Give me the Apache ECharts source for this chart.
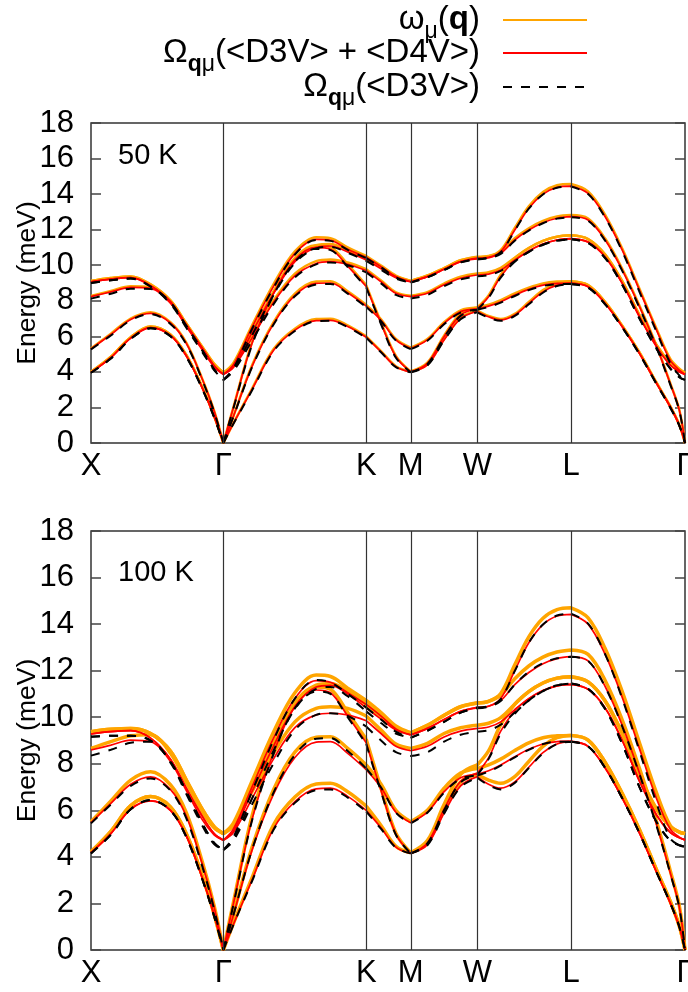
<!DOCTYPE html>
<html>
<head>
<meta charset="utf-8">
<script src="https://cdn.jsdelivr.net/npm/echarts@6/dist/echarts.min.js"></script>
<style>html,body{margin:0;padding:0;background:#fff}#c{width:688px;height:992px}</style>
</head>
<body>
<div id="c"></div>
<script>
// path coordinate (segments X-Γ, Γ-K, K-M, M-W, W-L, L-Γ; high-symmetry points repeated)
const qPath = [0,0.15,0.3,0.45,0.6,0.72,0.84,0.93,1.0, 1.0,1.076,1.216,1.378,1.54,1.701,1.809,1.939,2.079, 2.079,2.191,2.303,2.415, 2.415,2.541,2.667,2.792,2.918, 2.918,3.003,3.095,3.201,3.307,3.414,3.52,3.626, 3.626,3.755,3.884,4.013,4.143,4.272,4.375,4.444,4.487];
const kLabels = ['X','Γ','K','M','W','L','Γ'];
const kPos = [0, 1.0, 2.079, 2.415, 2.918, 3.626, 4.487];
const yTicks = [0,2,4,6,8,10,12,14,16,18];
const panelNames = ['50 K', '100 K'];

// 50 K: omega_mu(q)
const omega50 = [
 [4.0,4.85,5.95,6.55,6.1,4.95,3.15,1.52,0, 0,1.12,3.05,5.27,6.43,6.97,6.99,6.62,6.0, 6.0,5.17,4.32,4.02, 4.02,4.42,5.85,7.05,7.45, 7.45,7.15,6.97,7.26,7.93,8.6,8.98,9.08, 9.08,8.88,7.93,6.6,5.09,3.39,2.07,1.02,0],
 [4.0,4.85,5.95,6.55,6.1,4.95,3.15,1.52,0, 0,1.52,4.36,6.78,8.4,9.08,9.1,8.53,7.77, 7.77,6.96,5.85,5.36, 5.36,5.85,6.79,7.46,7.62, 7.62,7.78,8.04,8.42,8.74,8.98,9.08,9.1, 9.1,8.88,7.93,6.6,5.09,3.39,2.07,1.02,0],
 [5.32,6.15,7.0,7.36,6.8,5.65,3.62,1.82,0, 0,2.02,5.66,8.5,10.42,11.12,11.02,10.05,8.88, 8.88,6.8,4.9,4.02, 4.02,4.52,6.04,7.27,7.62, 7.62,8.3,9.47,10.4,10.97,11.37,11.6,11.68, 11.68,11.47,10.6,9.1,7.2,5.52,4.5,4.12,3.95],
 [8.27,8.55,8.82,8.77,7.93,6.62,5.33,4.38,3.95, 3.95,4.35,6.0,8.0,9.52,10.23,10.32,10.15,9.78, 9.78,9.14,8.48,8.28, 8.28,8.48,8.97,9.35,9.53, 9.53,9.6,9.85,10.42,10.97,11.37,11.6,11.68, 11.68,11.47,10.6,9.1,7.2,5.52,4.5,4.12,3.95],
 [9.12,9.28,9.37,8.92,8.02,6.72,5.42,4.45,3.95, 3.95,4.4,6.3,8.5,10.32,11.12,11.2,10.85,10.38, 10.38,9.87,9.37,9.12, 9.12,9.42,9.84,10.28,10.43, 10.43,10.5,10.76,11.52,12.08,12.49,12.74,12.82, 12.82,12.63,11.5,9.8,7.73,5.47,3.38,1.87,0],
 [9.12,9.28,9.37,8.92,8.02,6.72,5.42,4.45,3.95, 3.95,4.5,6.6,8.92,10.78,11.58,11.52,11.0,10.52, 10.52,9.98,9.42,9.12, 9.12,9.42,9.84,10.28,10.48, 10.48,10.52,10.85,12.1,13.32,14.12,14.5,14.57, 14.57,14.15,12.83,10.94,8.68,6.43,4.74,4.18,3.95]
];
// 50 K: Omega(<D3V> + <D4V>)
const d34_50 = [
 [3.97,4.8,5.9,6.49,6.05,4.9,3.1,1.5,0, 0,1.1,3.0,5.2,6.35,6.88,6.9,6.55,5.95, 5.95,5.13,4.29,4.0, 4.0,4.39,5.8,7.0,7.4, 7.4,7.1,6.92,7.2,7.85,8.5,8.88,8.98, 8.98,8.79,7.85,6.54,5.04,3.35,2.04,1.0,0],
 [3.97,4.8,5.9,6.49,6.05,4.9,3.1,1.5,0, 0,1.5,4.3,6.7,8.3,8.98,9.0,8.45,7.7, 7.7,6.9,5.8,5.32, 5.32,5.8,6.73,7.39,7.55, 7.55,7.7,7.95,8.32,8.64,8.88,8.98,9.0, 9.0,8.79,7.85,6.54,5.04,3.35,2.04,1.0,0],
 [5.29,6.1,6.95,7.29,6.75,5.6,3.6,1.8,0, 0,2.0,5.6,8.4,10.3,11.0,10.9,9.95,8.8, 8.8,6.73,4.85,4.0, 4.0,4.48,5.98,7.2,7.55, 7.55,8.22,9.37,10.26,10.8,11.19,11.42,11.5, 11.5,11.3,10.46,8.98,7.1,5.42,4.39,4.01,3.86],
 [8.23,8.5,8.75,8.7,7.86,6.55,5.25,4.28,3.86, 3.86,4.25,5.9,7.9,9.4,10.1,10.2,10.05,9.7, 9.7,9.07,8.42,8.23, 8.23,8.42,8.9,9.27,9.45, 9.45,9.5,9.73,10.29,10.8,11.19,11.42,11.5, 11.5,11.3,10.46,8.98,7.1,5.42,4.39,4.01,3.86],
 [9.07,9.22,9.3,8.85,7.95,6.65,5.35,4.35,3.86, 3.86,4.3,6.2,8.4,10.2,11.0,11.08,10.75,10.3, 10.3,9.8,9.3,9.07, 9.07,9.36,9.77,10.2,10.35, 10.35,10.42,10.67,11.42,11.98,12.39,12.64,12.73, 12.73,12.54,11.42,9.73,7.67,5.42,3.35,1.85,0],
 [9.07,9.22,9.3,8.85,7.95,6.65,5.35,4.35,3.86, 3.86,4.4,6.5,8.8,10.65,11.45,11.4,10.9,10.45, 10.45,9.92,9.36,9.07, 9.07,9.36,9.77,10.2,10.4, 10.4,10.44,10.76,11.98,13.2,14.0,14.38,14.45, 14.45,14.04,12.73,10.85,8.6,6.35,4.66,4.1,3.86]
];
// 50 K: Omega(<D3V>)
const d3_50 = [
 [3.95,4.75,5.85,6.45,6.0,4.85,3.05,1.45,0, 0,1.08,2.95,5.15,6.3,6.85,6.87,6.52,5.92, 5.92,5.1,4.27,3.98, 3.98,4.36,5.76,6.96,7.35, 7.35,7.05,6.87,7.15,7.8,8.45,8.83,8.93, 8.93,8.74,7.8,6.5,5.0,3.32,2.0,0.98,0],
 [3.95,4.75,5.85,6.45,6.0,4.85,3.05,1.45,0, 0,1.48,4.25,6.65,8.25,8.92,8.95,8.4,7.65, 7.65,6.85,5.76,5.28, 5.28,5.75,6.68,7.33,7.5, 7.5,7.65,7.9,8.27,8.6,8.83,8.93,8.95, 8.95,8.74,7.8,6.5,5.0,3.32,2.0,0.98,0],
 [5.27,6.05,6.9,7.25,6.7,5.55,3.55,1.75,0, 0,1.95,5.5,8.3,10.2,10.92,10.85,9.9,8.75, 8.75,6.68,4.8,3.98, 3.98,4.44,5.94,7.15,7.5, 7.5,8.17,9.3,10.2,10.75,11.15,11.38,11.46, 11.46,11.25,10.4,8.9,7.0,5.3,4.2,3.7,3.55],
 [8.12,8.4,8.68,8.66,7.82,6.48,5.12,4.1,3.55, 3.55,4.05,5.75,7.8,9.32,10.05,10.15,10.0,9.6, 9.6,8.98,8.33,8.13, 8.13,8.33,8.82,9.2,9.38, 9.38,9.44,9.68,10.22,10.75,11.15,11.38,11.46, 11.46,11.25,10.4,8.9,7.0,5.3,4.2,3.7,3.55],
 [9.0,9.15,9.25,8.8,7.9,6.58,5.22,4.15,3.55, 3.55,4.1,6.05,8.3,10.12,10.95,11.03,10.7,10.25, 10.25,9.75,9.25,9.02, 9.02,9.32,9.73,10.16,10.32, 10.32,10.4,10.64,11.38,11.95,12.36,12.62,12.7, 12.7,12.5,11.38,9.68,7.6,5.36,3.3,1.82,0],
 [9.0,9.15,9.25,8.8,7.9,6.58,5.22,4.15,3.55, 3.55,4.2,6.4,8.72,10.6,11.42,11.37,10.86,10.4, 10.4,9.88,9.32,9.02, 9.02,9.32,9.73,10.16,10.37, 10.37,10.42,10.73,11.95,13.18,13.98,14.36,14.43, 14.43,14.0,12.68,10.78,8.5,6.25,4.5,3.8,3.55]
];
// 100 K: omega_mu(q)
const omega100 = [
 [4.22,5.1,6.2,6.59,6.15,5.0,3.2,1.55,0, 0,1.15,3.1,5.37,6.57,7.13,7.16,6.8,6.18, 6.18,5.35,4.46,4.18, 4.18,4.6,6.02,7.22,7.55, 7.55,7.3,7.16,7.45,8.1,8.75,9.12,9.22, 9.22,9.02,8.06,6.72,5.17,3.44,2.1,1.03,0],
 [4.22,5.1,6.2,6.59,6.15,5.0,3.2,1.55,0, 0,1.55,4.4,6.88,8.5,9.14,9.16,8.66,7.95, 7.95,7.12,6.0,5.51, 5.51,6.0,6.95,7.6,7.8, 7.8,7.95,8.2,8.57,8.9,9.12,9.2,9.22, 9.22,9.02,8.06,6.72,5.17,3.44,2.1,1.03,0],
 [5.51,6.4,7.3,7.66,7.1,5.9,3.8,1.9,0, 0,2.05,5.75,8.65,10.6,11.3,11.2,10.2,9.05, 9.05,6.95,5.02,4.18, 4.18,4.7,6.25,7.55,7.95, 7.95,8.55,9.68,10.56,11.1,11.47,11.68,11.74, 11.74,11.52,10.7,9.3,7.5,6.05,5.3,5.07,5.0],
 [8.66,8.95,9.2,9.25,8.45,7.2,5.95,5.25,5.0, 5.0,5.35,6.8,8.45,9.8,10.38,10.45,10.38,10.05, 10.05,9.45,8.85,8.66, 8.66,8.88,9.3,9.55,9.66, 9.66,9.74,9.98,10.56,11.1,11.47,11.68,11.74, 11.74,11.52,10.7,9.3,7.5,6.05,5.3,5.07,5.0],
 [9.38,9.48,9.52,9.3,8.55,7.3,6.05,5.3,5.0, 5.0,5.4,7.05,8.95,10.6,11.38,11.45,11.12,10.55, 10.55,10.05,9.55,9.33, 9.33,9.65,10.08,10.45,10.6, 10.6,10.68,10.95,11.65,12.2,12.58,12.8,12.89, 12.89,12.7,11.58,9.88,7.8,5.52,3.42,1.9,0],
 [9.38,9.48,9.52,9.3,8.55,7.3,6.05,5.3,5.0, 5.0,5.45,7.25,9.35,11.05,11.81,11.75,11.25,10.72, 10.72,10.2,9.62,9.33, 9.33,9.65,10.08,10.45,10.62, 10.62,10.68,11.02,12.25,13.45,14.25,14.62,14.7, 14.7,14.27,12.95,11.1,8.9,6.75,5.35,5.06,5.0]
];
// 100 K: Omega(<D3V> + <D4V>)
const d34_100 = [
 [4.18,5.0,6.05,6.41,6.0,4.9,3.1,1.5,0, 0,1.1,3.0,5.2,6.37,6.92,6.95,6.6,6.0, 6.0,5.25,4.42,4.15, 4.15,4.52,5.88,7.05,7.45, 7.45,7.12,6.95,7.22,7.85,8.48,8.85,8.95, 8.95,8.75,7.82,6.52,5.02,3.34,2.03,1.0,0],
 [4.18,5.0,6.05,6.41,6.0,4.9,3.1,1.5,0, 0,1.5,4.28,6.68,8.27,8.93,8.95,8.45,7.75, 7.75,6.98,5.92,5.47, 5.47,5.92,6.8,7.4,7.55, 7.55,7.7,7.95,8.3,8.62,8.85,8.95,8.97, 8.97,8.75,7.82,6.52,5.02,3.34,2.03,1.0,0],
 [5.47,6.3,7.12,7.44,6.9,5.75,3.7,1.85,0, 0,2.0,5.6,8.45,10.45,11.17,11.05,10.05,8.9, 8.9,6.85,4.98,4.15, 4.15,4.6,6.05,7.25,7.6, 7.6,8.25,9.4,10.28,10.8,11.15,11.35,11.41, 11.41,11.2,10.4,9.0,7.25,5.8,5.05,4.82,4.73],
 [8.59,8.8,9.02,8.95,8.1,6.85,5.6,4.95,4.72, 4.72,5.05,6.5,8.2,9.55,10.1,10.17,10.1,9.85, 9.85,9.3,8.75,8.56, 8.56,8.75,9.15,9.4,9.52, 9.52,9.58,9.8,10.33,10.8,11.15,11.35,11.41, 11.41,11.2,10.4,9.0,7.25,5.8,5.05,4.82,4.73],
 [9.28,9.38,9.42,9.1,8.2,6.95,5.75,5.0,4.72, 4.72,5.1,6.8,8.75,10.45,11.3,11.37,11.0,10.4, 10.4,9.92,9.45,9.24, 9.24,9.52,9.9,10.25,10.4, 10.4,10.47,10.72,11.4,11.92,12.3,12.52,12.6, 12.6,12.42,11.32,9.65,7.6,5.38,3.33,1.84,0],
 [9.28,9.38,9.42,9.1,8.2,6.95,5.75,5.0,4.72, 4.72,5.2,7.0,9.1,10.8,11.57,11.5,11.05,10.55, 10.55,10.05,9.5,9.24, 9.24,9.52,9.9,10.25,10.42, 10.42,10.47,10.8,12.0,13.2,13.98,14.35,14.42, 14.42,14.0,12.7,10.85,8.65,6.5,5.2,4.85,4.73]
];
// 100 K: Omega(<D3V>)
const d3_100 = [
 [4.15,4.95,6.05,6.44,6.0,4.85,3.05,1.45,0, 0,1.08,2.95,5.15,6.32,6.87,6.9,6.55,5.95, 5.95,5.2,4.4,4.15, 4.15,4.5,5.85,7.0,7.4, 7.4,7.08,6.9,7.18,7.82,8.45,8.85,8.95, 8.95,8.75,7.82,6.52,5.02,3.34,2.03,1.0,0],
 [4.15,4.95,6.05,6.44,6.0,4.85,3.05,1.45,0, 0,1.5,4.3,6.75,8.38,9.08,9.1,8.55,7.8, 7.8,6.98,5.9,5.44, 5.44,5.9,6.76,7.36,7.5, 7.5,7.66,7.92,8.28,8.6,8.85,8.95,8.95, 8.95,8.75,7.82,6.52,5.02,3.34,2.03,1.0,0],
 [5.44,6.25,7.05,7.37,6.85,5.65,3.6,1.75,0, 0,1.95,5.55,8.4,10.38,11.1,11.0,10.0,8.85, 8.85,6.8,4.95,4.15, 4.15,4.58,6.0,7.2,7.52, 7.52,8.2,9.3,10.15,10.72,11.12,11.37,11.45, 11.45,11.22,10.35,8.85,7.0,5.5,4.7,4.5,4.44],
 [8.35,8.6,8.9,8.95,8.05,6.7,5.35,4.55,4.3, 4.3,4.7,6.25,8.0,9.45,10.1,10.17,10.05,9.6, 9.6,9.0,8.5,8.33, 8.33,8.5,8.95,9.25,9.38, 9.38,9.44,9.68,10.2,10.72,11.12,11.37,11.45, 11.45,11.22,10.35,8.85,7.0,5.5,4.7,4.5,4.44],
 [9.16,9.2,9.2,9.0,8.1,6.8,5.45,4.6,4.3, 4.3,4.75,6.5,8.55,10.35,11.22,11.3,10.9,10.25, 10.25,9.75,9.3,9.12, 9.12,9.42,9.8,10.2,10.38, 10.38,10.45,10.7,11.4,11.95,12.32,12.53,12.6, 12.6,12.42,11.3,9.6,7.55,5.33,3.3,1.82,0],
 [9.16,9.2,9.2,9.0,8.1,6.8,5.45,4.6,4.3, 4.3,4.85,6.8,9.0,10.8,11.6,11.5,11.0,10.42, 10.42,9.9,9.38,9.12, 9.12,9.42,9.8,10.2,10.42, 10.42,10.47,10.78,11.98,13.2,13.98,14.37,14.45, 14.45,14.02,12.7,10.8,8.55,6.3,4.8,4.5,4.44]
];

const FONT = '"Liberation Sans", Arial, Helvetica, sans-serif';
const ORANGE = '#FFA500', RED = '#FF0000', BLACK = '#000000';
const DASH = [9, 9];

function bandData(row) {
  const out = [];
  for (let i = 0; i < qPath.length; i++) {
    if (i > 0 && qPath[i] === qPath[i - 1]) out.push(['-', '-']);
    out.push([qPath[i], row[i]]);
  }
  return out;
}

const grids = [
  {left: 91, top: 123, width: 594, height: 320},
  {left: 91, top: 531, width: 594, height: 419}
];
const tables = [[omega50, d34_50, d3_50], [omega100, d34_100, d3_100]];
const orangeW = [2.5, 3.5];

const series = [];
grids.forEach((g, gi) => {
  series.push({
    type: 'line', xAxisIndex: gi, yAxisIndex: gi * 2, data: [], silent: true, z: 1,
    markLine: {
      silent: true, symbol: ['none', 'none'], animation: false,
      label: {show: false},
      lineStyle: {color: '#333', width: 1.2, type: 'solid'},
      data: kPos.slice(1, -1).map(v => ({xAxis: v}))
    }
  });
  const styles = [
    {color: ORANGE, width: orangeW[gi], type: 'solid', z: 2},
    {color: RED, width: 1.7, type: 'solid', z: 3},
    {color: BLACK, width: 2, type: DASH, z: 4}
  ];
  tables[gi].forEach((tab, ti) => {
    tab.forEach(row => {
      series.push({
        type: 'line', xAxisIndex: gi, yAxisIndex: gi * 2,
        data: bandData(row), smooth: 0.35, showSymbol: false, symbol: 'none',
        connectNulls: false, silent: true, z: styles[ti].z,
        lineStyle: {color: styles[ti].color, width: styles[ti].width, type: styles[ti].type}
      });
    });
  });
});

function labelFor(v) {
  for (let i = 0; i < kPos.length; i++) if (Math.abs(kPos[i] - v) < 1e-6) return kLabels[i];
  return '';
}

const xAxes = grids.map((g, gi) => ({
  gridIndex: gi, type: 'value', min: kPos[0], max: kPos[kPos.length - 1],
  axisLine: {show: false}, axisTick: {show: false}, splitLine: {show: false},
  axisLabel: {
    customValues: kPos, formatter: labelFor, fontSize: 31, color: '#000',
    fontFamily: FONT, margin: 8, showMinLabel: true, showMaxLabel: true
  }
}));

const yAxes = [];
grids.forEach((g, gi) => {
  const base = {
    gridIndex: gi, type: 'value', min: yTicks[0], max: yTicks[yTicks.length - 1], interval: 2,
    axisLine: {show: false}, splitLine: {show: false},
    axisTick: {show: true, inside: true, length: 10, lineStyle: {color: '#444', width: 1.5}}
  };
  yAxes.push(Object.assign({}, base, {
    position: 'left',
    axisLabel: {fontSize: 31, color: '#000', fontFamily: FONT, margin: 17},
    name: 'Energy (meV)', nameLocation: 'middle', nameGap: 50, nameMoveOverlap: false,
    nameTextStyle: {fontSize: 26.5, color: '#000', fontFamily: FONT}
  }));
  yAxes.push(Object.assign({}, base, {position: 'right', axisLabel: {show: false}}));
});

const rich = {
  n: {fontSize: 33, fontFamily: FONT, color: '#000', lineHeight: 46},
  b: {fontSize: 33, fontFamily: FONT, color: '#000', fontWeight: 'bold', lineHeight: 46},
  s: {fontSize: 23, fontFamily: FONT, color: '#000', lineHeight: 23, verticalAlign: 'bottom'},
  sb: {fontSize: 23, fontFamily: FONT, color: '#000', fontWeight: 'bold', lineHeight: 23, verticalAlign: 'bottom'}
};
const legendItems = [
  {text: '{n|ω}{s|μ}{n|(}{b|q}{n|)}', y: 20, color: ORANGE, dash: null, w: 2},
  {text: '{n|Ω}{sb|q}{s|μ}{n|(<D3V> + <D4V>)}', y: 53, color: RED, dash: null, w: 2},
  {text: '{n|Ω}{sb|q}{s|μ}{n|(<D3V>)}', y: 87, color: BLACK, dash: DASH, w: 2}
];
const graphic = [];
legendItems.forEach(it => {
  graphic.push({
    type: 'text', x: 480, y: it.y, silent: true,
    style: {text: it.text, rich: rich, align: 'right', verticalAlign: 'middle',
            textAlign: 'right', textVerticalAlign: 'middle', font: '33px ' + FONT, fill: '#000'}
  });
  const st = {stroke: it.color, lineWidth: it.w};
  if (it.dash) st.lineDash = it.dash;
  graphic.push({type: 'line', silent: true, shape: {x1: 503, y1: it.y, x2: 587, y2: it.y}, style: st});
});
panelNames.forEach((t, gi) => {
  graphic.push({
    type: 'text', x: 118, y: grids[gi].top + (gi === 0 ? 33 : 42), silent: true,
    style: {text: t, font: '29px ' + FONT, fill: '#000', align: 'left', verticalAlign: 'middle',
            textAlign: 'left', textVerticalAlign: 'middle'}
  });
});

const chart = echarts.init(document.getElementById('c'), null, {renderer: 'canvas'});
chart.setOption({
  animation: false,
  backgroundColor: '#ffffff',
  grid: grids.map(g => Object.assign({show: true, borderColor: '#333', borderWidth: 1.5, backgroundColor: 'transparent', outerBoundsMode: 'none', containLabel: false}, g)),
  xAxis: xAxes,
  yAxis: yAxes,
  series: series,
  graphic: graphic
});
</script>
</body>
</html>
